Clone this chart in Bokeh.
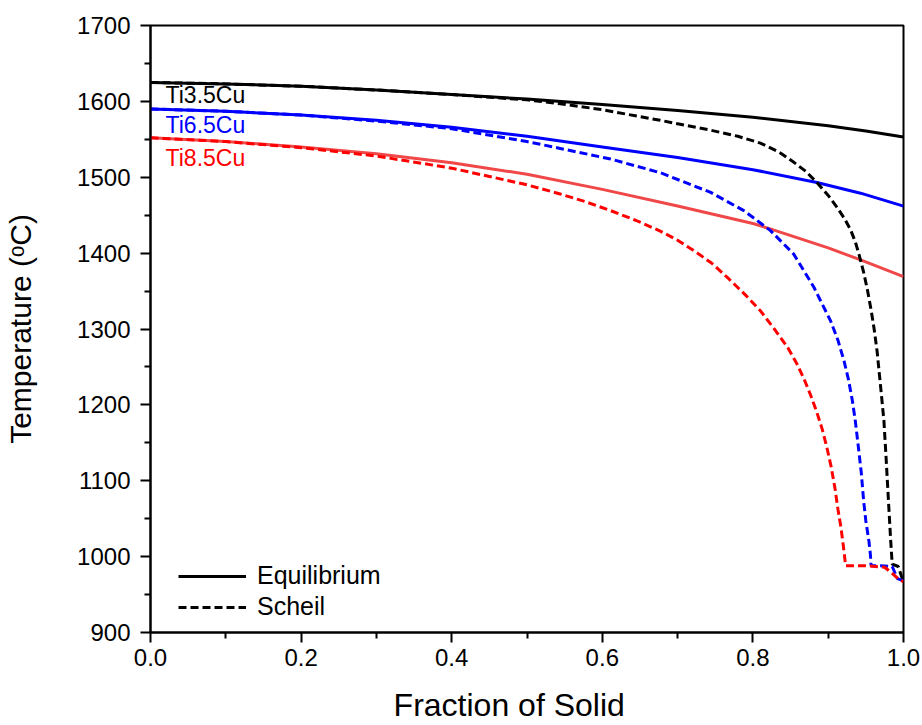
from bokeh.plotting import figure
from bokeh.models import (FixedTicker, Range1d, Legend, LegendItem, Label,
                          PrintfTickFormatter)
from bokeh.embed import file_html
from bokeh.resources import INLINE

FONT = "Liberation Sans"

# Equilibrium solidification paths (fraction of solid vs temperature, °C)
ti35_eq_f = [0.0, 0.1, 0.2, 0.3, 0.4, 0.5, 0.6, 0.7, 0.8, 0.9, 0.95, 1.0]
ti35_eq_T = [1625, 1623, 1620, 1615, 1609, 1603, 1596, 1588, 1579, 1568, 1561, 1553]

ti65_eq_f = [0.0, 0.1, 0.2, 0.3, 0.4, 0.5, 0.6, 0.7, 0.8, 0.885, 0.943, 1.0]
ti65_eq_T = [1590, 1587, 1582, 1575, 1566, 1554, 1540, 1526, 1510, 1493, 1479, 1462]

ti85_eq_f = [0.0, 0.1, 0.2, 0.3, 0.4, 0.5, 0.6, 0.7, 0.8, 0.823, 0.9, 0.943, 1.0]
ti85_eq_T = [1552, 1547, 1540, 1531, 1519, 1504, 1484, 1462, 1439, 1432, 1407, 1391, 1369]

# Scheil solidification paths
ti35_sch_f = [0.0, 0.1, 0.2, 0.3, 0.4, 0.5, 0.544, 0.6, 0.677, 0.744, 0.78, 0.81,
              0.835, 0.854, 0.87, 0.885, 0.9, 0.912, 0.922, 0.930, 0.936, 0.941,
              0.947, 0.952, 0.957, 0.961, 0.965, 0.968, 0.971, 0.974, 0.977, 0.980,
              0.983, 0.985, 0.993, 0.997, 1.0]
ti35_sch_T = [1625, 1623, 1620, 1615, 1609, 1602, 1597, 1589, 1575, 1562, 1554, 1545,
              1533, 1520, 1508, 1493, 1476, 1460, 1445, 1430, 1415, 1398,
              1375, 1352, 1325, 1300, 1270, 1240, 1210, 1179, 1128, 1074,
              1021, 990, 987, 975, 968]

ti65_sch_f = [0.0, 0.1, 0.2, 0.3, 0.4, 0.5, 0.544, 0.611, 0.677, 0.744, 0.788, 0.823,
              0.854, 0.881, 0.903, 0.913, 0.921, 0.927, 0.932, 0.936, 0.940, 0.944,
              0.947, 0.950, 0.954, 0.956, 0.957, 0.970, 0.985, 0.992, 1.0]
ti65_sch_T = [1590, 1587, 1582, 1574, 1564, 1547, 1538, 1524, 1506, 1480, 1456, 1430,
              1399, 1355, 1311, 1285, 1258, 1233, 1206, 1179, 1145, 1110,
              1074, 1047, 1021, 1003, 988, 988, 987, 971, 968]

ti85_sch_f = [0.0, 0.1, 0.2, 0.3, 0.4, 0.5, 0.544, 0.577, 0.611, 0.645, 0.677, 0.7,
              0.722, 0.745, 0.766, 0.79, 0.81, 0.83, 0.846, 0.858, 0.868, 0.877,
              0.885, 0.892, 0.898, 0.904, 0.909, 0.913, 0.917, 0.920, 0.922, 0.923,
              0.950, 0.975, 0.985, 0.995, 1.0]
ti85_sch_T = [1552, 1547, 1539, 1528, 1512, 1490, 1478, 1468, 1456, 1443, 1429, 1417,
              1403, 1387, 1368, 1345, 1324, 1298, 1276, 1255, 1234, 1212,
              1190, 1168, 1145, 1118, 1090, 1062, 1038, 1015, 998, 988,
              988, 986, 978, 969, 967]

x_ticks = [0.0, 0.2, 0.4, 0.6, 0.8, 1.0]
x_minor = [0.1, 0.3, 0.5, 0.7, 0.9]
y_ticks = [900, 1000, 1100, 1200, 1300, 1400, 1500, 1600, 1700]
y_minor = [950, 1050, 1150, 1250, 1350, 1450, 1550, 1650]

alloy_names = ["Ti3.5Cu", "Ti6.5Cu", "Ti8.5Cu"]
alloy_colors = ["black", "#0000ff", "#ff0000"]
label_T = [1608, 1569, 1525]

p = figure(width=922, height=725, output_backend="svg", toolbar_location=None,
           x_range=Range1d(0, 1), y_range=Range1d(900, 1700),
           min_border_left=150, min_border_right=19, min_border_top=25,
           min_border_bottom=93)
p.grid.visible = False
p.outline_line_color = "black"
p.outline_line_width = 2
p.background_fill_color = "white"
p.border_fill_color = "white"

p.xaxis.ticker = FixedTicker(ticks=x_ticks, minor_ticks=x_minor)
p.yaxis.ticker = FixedTicker(ticks=y_ticks, minor_ticks=y_minor)
p.xaxis.formatter = PrintfTickFormatter(format="%.1f")
# trailing no-break spaces nudge the centred title a little to the left
p.xaxis.axis_label = "Fraction of Solid\u00a0\u00a0\u00a0\u00a0"
p.yaxis.axis_label = "Temperature (ᵒC)"

for ax in (p.xaxis[0], p.yaxis[0]):
    ax.axis_line_width = 2
    ax.axis_line_color = "black"
    ax.major_tick_line_width = 2
    ax.minor_tick_line_width = 2
    ax.major_tick_line_color = "black"
    ax.minor_tick_line_color = "black"
    ax.major_tick_out = 10
    ax.major_tick_in = 0
    ax.minor_tick_out = 6
    ax.minor_tick_in = 0
    ax.major_label_text_font = FONT
    ax.major_label_text_font_size = "24px"
    ax.major_label_text_color = "black"
    ax.axis_label_text_font = FONT
    ax.axis_label_text_font_style = "normal"
    ax.axis_label_text_color = "black"

p.xaxis.axis_label_text_font_size = "32px"
p.yaxis.axis_label_text_font_size = "30px"
p.xaxis.major_label_standoff = 6
p.xaxis.axis_label_standoff = 18
p.yaxis.major_label_standoff = 10
p.yaxis.axis_label_standoff = 37

RED_EQ = "#f04848"
dash = "8 4"

r_eq35 = p.line(ti35_eq_f, ti35_eq_T, line_color="black", line_width=3)
p.line(ti65_eq_f, ti65_eq_T, line_color="#0000ff", line_width=3)
p.line(ti85_eq_f, ti85_eq_T, line_color=RED_EQ, line_width=3)

r_sch35 = p.line(ti35_sch_f, ti35_sch_T, line_color="black", line_width=3,
                 line_dash=dash)
p.line(ti65_sch_f, ti65_sch_T, line_color="#0000ff", line_width=3, line_dash=dash)
p.line(ti85_sch_f, ti85_sch_T, line_color="#ff0000", line_width=3, line_dash=dash)

for name, t, col in zip(alloy_names, label_T, alloy_colors):
    p.add_layout(Label(x=0.02, y=t, text=name, text_color=col,
                       text_font=FONT, text_font_size="23px",
                       text_baseline="middle", text_align="left"))

legend = Legend(items=[LegendItem(label="Equilibrium", renderers=[r_eq35]),
                       LegendItem(label="Scheil", renderers=[r_sch35])],
                location=(28, 11), orientation="vertical",
                glyph_width=68, glyph_height=26, label_height=26,
                label_standoff=11, spacing=2, padding=0, margin=0,
                label_text_font=FONT, label_text_font_size="25px",
                label_text_color="black",
                border_line_color=None, background_fill_alpha=0)
p.add_layout(legend)

open("out.html", "w").write(file_html(p, INLINE))
